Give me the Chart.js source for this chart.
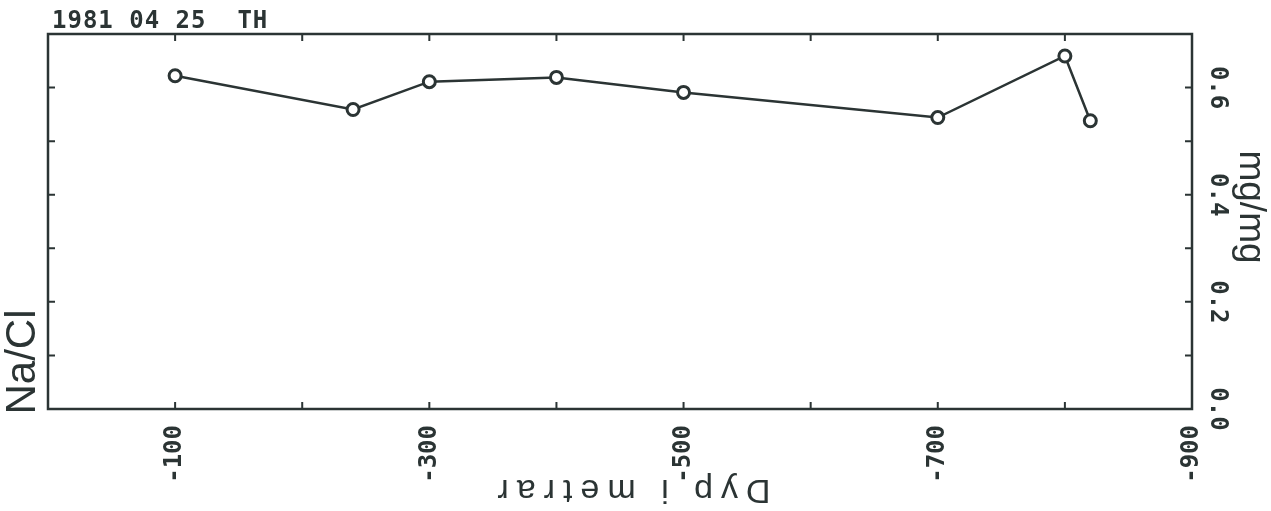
<!DOCTYPE html>
<html>
<head>
<meta charset="utf-8">
<script src="https://cdn.jsdelivr.net/npm/chart.js@4"></script>
<style>
  html, body { margin: 0; padding: 0; background: #fff; }
  #wrap { width: 1271px; height: 511px; position: relative; }
</style>
</head>
<body>
<div id="wrap"><canvas id="plot"></canvas></div>
<script>
// depth in metres (negative down) and Na/Cl ratio
const depths = [-100, -240, -300, -400, -500, -700, -800, -820];
const ratios = [0.622, 0.559, 0.611, 0.619, 0.591, 0.544, 0.659, 0.538];
const depthLabels = [-100, -300, -500, -700, -900];
const ratioLabels = [0.0, 0.2, 0.4, 0.6];

const INK = "#2b3434";
const MONO = "'DejaVu Sans Mono', monospace";
const SANS = "'Liberation Sans', Arial, sans-serif";

// frame, inward tick marks and the rotated texts of the old plotter sheet
const plotterFrame = {
  id: "plotterFrame",
  beforeDatasetsDraw(chart) {
    const { ctx, chartArea: a, scales } = chart;
    ctx.save();
    ctx.strokeStyle = INK;
    ctx.lineWidth = 2.5;
    ctx.strokeRect(a.left, a.top, a.right - a.left, a.bottom - a.top);

    ctx.lineWidth = 2;
    scales.x.ticks.forEach((t) => {
      if (t.value === scales.x.min || t.value === scales.x.max) return;
      const px = scales.x.getPixelForValue(t.value);
      ctx.beginPath();
      ctx.moveTo(px, a.top); ctx.lineTo(px, a.top + 7);
      ctx.moveTo(px, a.bottom); ctx.lineTo(px, a.bottom - 7);
      ctx.stroke();
    });
    scales.y.ticks.forEach((t) => {
      if (t.value <= scales.y.min || t.value >= scales.y.max - 1e-9) return;
      const py = scales.y.getPixelForValue(t.value);
      ctx.beginPath();
      ctx.moveTo(a.left, py); ctx.lineTo(a.left + 7, py);
      ctx.moveTo(a.right, py); ctx.lineTo(a.right - 7, py);
      ctx.stroke();
    });
    ctx.restore();
  },
  afterDraw(chart) {
    const { ctx, chartArea: a, scales } = chart;
    ctx.save();
    ctx.fillStyle = INK;

    // date stamp
    ctx.font = "bold 24px " + MONO;
    ctx.textAlign = "left";
    ctx.textBaseline = "alphabetic";
    ctx.letterSpacing = "1px";
    ctx.fillText("1981 04 25  TH", a.left + 4, a.top - 6);
    ctx.letterSpacing = "0px";

    // right axis numbers, turned clockwise
    ctx.font = "bold 24px " + MONO;
    ctx.textAlign = "center";
    ctx.textBaseline = "middle";
    ratioLabels.forEach((v) => {
      const py = scales.y.getPixelForValue(v);
      ctx.save();
      ctx.translate(a.right + 25, py);
      ctx.rotate(Math.PI / 2);
      ctx.fillText(v.toFixed(1), 0, 0);
      ctx.restore();
    });

    // right axis unit
    ctx.font = "37px " + SANS;
    ctx.save();
    ctx.translate(a.right + 58, a.top + 173);
    ctx.rotate(Math.PI / 2);
    ctx.fillText("mg/mg", 0, 0);
    ctx.restore();

    // left axis name
    ctx.font = "42px " + SANS;
    ctx.save();
    ctx.translate(a.left - 25, a.bottom - 47);
    ctx.rotate(-Math.PI / 2);
    ctx.fillText("Na/Cl", 0, 0);
    ctx.restore();

    // depth axis title, printed upside down
    ctx.font = "34px " + SANS;
    ctx.letterSpacing = "8px";
    ctx.save();
    ctx.translate((a.left + a.right) / 2 + 10, a.bottom + 80);
    ctx.rotate(Math.PI);
    ctx.fillText("Dyp i metrar", 0, 0);
    ctx.restore();

    ctx.restore();
  },
};

function initializeChart() {
  const ctx = document.getElementById("plot");
  if (!ctx) return;

  new Chart(ctx, {
    type: "scatter",
    data: {
      datasets: [
        {
          data: depths.map((d, i) => ({ x: d, y: ratios[i] })),
          showLine: true,
          tension: 0,
          borderColor: INK,
          borderWidth: 2.5,
          pointRadius: 6,
          pointBorderWidth: 3,
          pointBackgroundColor: "#FFFFFF",
          pointBorderColor: INK,
        },
      ],
    },
    options: {
      responsive: true,
      maintainAspectRatio: false,
      animation: false,
      layout: { padding: { top: 34, left: 0, right: 0, bottom: 0 } },
      plugins: {
        legend: { display: false },
        tooltip: { enabled: false },
      },
      scales: {
        x: {
          type: "linear",
          position: "bottom",
          min: -900,
          max: 0,
          reverse: true,
          grid: { display: false },
          border: { display: false },
          afterFit: (scale) => { scale.height = 102; },
          ticks: {
            stepSize: 100,
            autoSkip: false,
            minRotation: 90,
            maxRotation: 90,
            padding: 8,
            color: INK,
            font: { family: MONO, size: 24, weight: "bold" },
            callback: (v) => (depthLabels.includes(v) ? String(v) : ""),
          },
        },
        y: {
          type: "linear",
          position: "right",
          min: 0,
          max: 0.7,
          grid: { display: false },
          border: { display: false },
          afterFit: (scale) => { scale.width = 79; },
          ticks: { stepSize: 0.1, display: false },
        },
        yLeft: {
          type: "linear",
          position: "left",
          min: 0,
          max: 0.7,
          grid: { display: false },
          border: { display: false },
          afterFit: (scale) => { scale.width = 48; },
          ticks: { display: false },
        },
      },
    },
    plugins: [plotterFrame],
  });
}

if (document.readyState === "loading") {
  document.addEventListener("DOMContentLoaded", initializeChart);
} else {
  initializeChart();
}
</script>
</body>
</html>
